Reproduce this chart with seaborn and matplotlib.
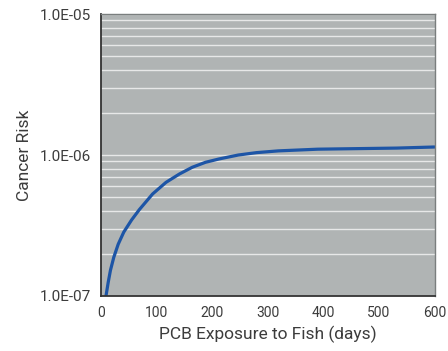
import matplotlib
matplotlib.use("Agg")
import matplotlib.pyplot as plt
import matplotlib.ticker as mticker
import seaborn as sns
import pandas as pd

# Data
days = [9, 13, 17, 23, 31, 41, 55, 69, 93, 117, 141, 164, 188, 212,
        247, 280, 319, 390, 461, 532, 600]
risk = [1.0e-7, 1.25e-7, 1.52e-7, 1.88e-7, 2.33e-7, 2.84e-7, 3.46e-7, 4.1e-7,
        5.3e-7, 6.4e-7, 7.33e-7, 8.18e-7, 8.88e-7, 9.37e-7,
        1.0e-6, 1.04e-6, 1.07e-6, 1.10e-6, 1.11e-6, 1.12e-6, 1.14e-6]
x_ticks = [0, 100, 200, 300, 400, 500, 600]
y_ticks = [1e-7, 1e-6, 1e-5]
y_tick_labels = ["1.0E-07", "1.0E-06", "1.0E-05"]
x_label = "PCB Exposure to Fish (days)"
y_label = "Cancer Risk"

sns.set_theme(style="white")
plt.rcParams['font.family'] = ['Roboto', 'DejaVu Sans']
text_color = "#3c3c3c"

df = pd.DataFrame({"days": days, "risk": risk})

fig = plt.figure(figsize=(4.48, 3.51), dpi=100)
ax = fig.add_axes([0.2254, 0.1567, 0.7446, 0.8033])
ax.set_facecolor("#b0b4b4")

sns.lineplot(data=df, x="days", y="risk", ax=ax, color="#1d55a6", linewidth=2.3)

ax.set_yscale("log")
ax.set_xlim(0, 600)
ax.set_ylim(1e-7, 1e-5)
ax.set_xticks(x_ticks)
ax.set_xticklabels([str(t) for t in x_ticks])
ax.set_yticks(y_ticks)
ax.set_yticklabels(y_tick_labels)
ax.yaxis.set_minor_locator(mticker.LogLocator(base=10, subs=[2, 3, 4, 5, 6, 7, 8, 9]))
ax.yaxis.set_minor_formatter(mticker.NullFormatter())

ax.grid(True, which="both", axis="y", color="white", linewidth=1.0, alpha=0.7)
ax.grid(False, axis="x")
ax.set_axisbelow(True)

ax.tick_params(axis="both", which="major", direction="out", length=5, width=1,
               colors=text_color, labelsize=11, pad=2)
ax.tick_params(axis="x", which="major", labelsize=10)
ax.tick_params(axis="y", which="minor", length=0)

for s in ["left", "bottom"]:
    ax.spines[s].set_color("#333333")
    ax.spines[s].set_linewidth(1.3)
for s in ["top", "right"]:
    ax.spines[s].set_color("#7a7e7e")
    ax.spines[s].set_linewidth(1.0)

ax.set_xlabel(x_label, fontsize=12.5, color=text_color, labelpad=4)
ax.set_ylabel(y_label, fontsize=12.5, color=text_color, labelpad=6)

fig.savefig("out.png", dpi=100, facecolor="white")
